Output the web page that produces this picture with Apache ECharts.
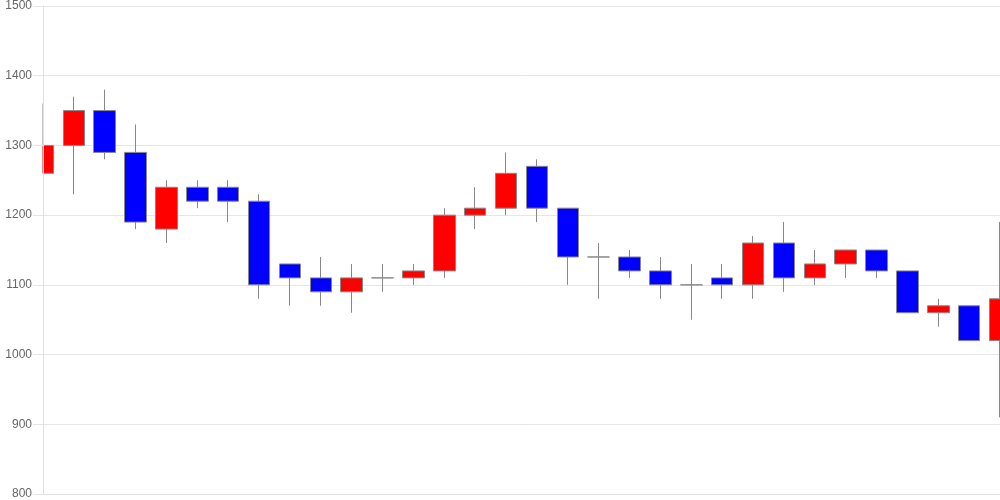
<!DOCTYPE html>
<html>
<head>
<meta charset="utf-8">
<script src="https://cdn.jsdelivr.net/npm/echarts@6/dist/echarts.min.js"></script>
<style>html,body{margin:0;padding:0;background:#fff}#c{width:1000px;height:500px}</style>
</head>
<body>
<div id="c"></div>
<script>
var categories = ['1','2','3','4','5','6','7','8','9','10','11','12','13','14','15','16','17','18','19','20','21','22','23','24','25','26','27','28','29','30','31','32'];
var opens  = [1260,1300,1350,1290,1180,1240,1240,1220,1130,1110,1090,1110,1110,1120,1200,1210,1270,1210,1140,1140,1120,1100,1110,1100,1160,1110,1130,1150,1120,1060,1070,1020];
var closes = [1300,1350,1290,1190,1240,1220,1220,1100,1110,1090,1110,1110,1120,1200,1210,1260,1210,1140,1140,1120,1100,1100,1100,1160,1110,1130,1150,1120,1060,1070,1020,1080];
var lows   = [1260,1230,1280,1180,1160,1210,1190,1080,1070,1070,1060,1090,1100,1110,1180,1200,1190,1100,1080,1110,1080,1050,1080,1080,1090,1100,1110,1110,1060,1040,1020,910];
var highs  = [1360,1370,1380,1330,1250,1250,1250,1230,1130,1140,1130,1130,1130,1210,1240,1290,1280,1210,1160,1150,1140,1130,1130,1170,1190,1150,1150,1150,1120,1080,1070,1190];
var yTicks = [800,900,1000,1100,1200,1300,1400,1500];

var data = categories.map(function(c,i){ return [opens[i], closes[i], lows[i], highs[i]]; });
var yMin = yTicks[0], yMax = yTicks[yTicks.length-1];
var chart = echarts.init(document.getElementById('c'), null, {renderer:'canvas'});
chart.setOption({
  animation:false,
  backgroundColor:'#fff',
  grid:{left:43,right:0,top:6,bottom:6,containLabel:false},
  xAxis:{type:'category',data:categories,boundaryGap:false,
    axisLine:{show:true,lineStyle:{color:'#e0e0e0'}},axisTick:{show:false},axisLabel:{show:false},splitLine:{show:false}},
  yAxis:[
    {type:'value',min:yMin,max:yMax,interval:100,z:0,
     axisLine:{show:false},axisTick:{show:false},axisLabel:{show:false},
     splitLine:{show:true,lineStyle:{color:'#e6e6e6'}}},
    {type:'value',min:yMin,max:yMax,interval:100,z:10,position:'left',
     axisLine:{show:true,lineStyle:{color:'#e0e0e0'}},
     axisTick:{show:true,length:10,lineStyle:{color:'#e6e6e6'}},
     axisLabel:{color:'#666',fontSize:12,fontFamily:'Liberation Sans, Arial, sans-serif',margin:11,
       formatter:function(v){return String(v);}},
     splitLine:{show:false}}
  ],
  graphic:[{type:'rect',left:0,top:0,z:5,shape:{width:42.5,height:500},style:{fill:'#fff'},silent:true}],
  series:[{type:'candlestick',data:data,barWidth:22,clip:true,yAxisIndex:0,z:2,
    itemStyle:{color:'#ff0000',color0:'#0000ff',borderColor:'#888',borderColor0:'#888',borderWidth:1}}]
});
</script>
</body>
</html>
